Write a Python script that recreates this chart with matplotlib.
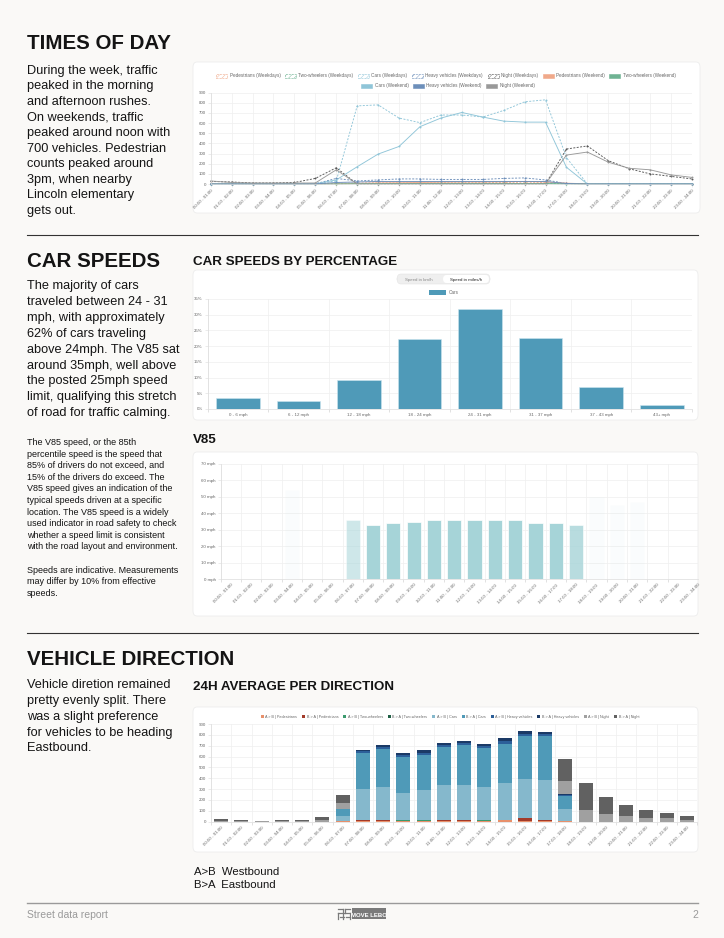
import matplotlib
matplotlib.use('Agg')
import matplotlib.pyplot as plt
from matplotlib.patches import Patch, FancyBboxPatch, Rectangle
from matplotlib.lines import Line2D
import numpy as np

plt.rcParams['font.family'] = ['Liberation Sans', 'DejaVu Sans']
plt.rcParams['hatch.linewidth'] = 0.3

# ---- data ----
hour_labels = [f'{h:02d}:00 - {h + 1:02d}:00' for h in range(24)]

# times of day (vehicles per hour)
peds_wd = [3, 2, 1, 1, 1, 2, 5, 10, 12, 12, 12, 13, 13, 14, 15, 18, 15, 5, 1, 0, 0, 0, 0, 0]
two_wd = [0, 0, 0, 0, 0, 0, 2, 4, 5, 5, 5, 5, 5, 5, 5, 5, 5, 2, 0, 0, 0, 0, 0, 0]
cars_wd = [0, 0, 0, 0, 0, 5, 30, 770, 780, 650, 605, 680, 680, 660, 725, 810, 830, 260, 0, 0, 0, 0, 0, 0]
heavy_wd = [0, 0, 0, 0, 0, 2, 55, 30, 40, 50, 50, 45, 45, 45, 55, 60, 40, 5, 0, 0, 0, 0, 0, 0]
night_wd = [25, 20, 10, 10, 15, 55, 160, 0, 0, 0, 0, 0, 0, 0, 0, 0, 0, 345, 375, 230, 150, 100, 75, 50]
peds_we = [5, 3, 2, 1, 1, 1, 2, 5, 10, 12, 15, 18, 20, 20, 22, 25, 20, 8, 2, 0, 0, 0, 0, 0]
two_we = [0, 0, 0, 0, 0, 0, 1, 3, 4, 5, 5, 6, 6, 6, 6, 5, 5, 2, 0, 0, 0, 0, 0, 0]
cars_we = [0, 0, 0, 0, 0, 3, 40, 170, 295, 370, 565, 650, 705, 660, 620, 610, 610, 165, 0, 0, 0, 0, 0, 0]
heavy_we = [0, 0, 0, 0, 0, 1, 15, 20, 25, 25, 25, 25, 25, 25, 25, 25, 25, 5, 0, 0, 0, 0, 0, 0]
night_we = [30, 15, 10, 10, 10, 10, 140, 0, 0, 0, 0, 0, 0, 0, 0, 0, 0, 285, 315, 215, 155, 140, 90, 65]

# car speeds
speed_bins = ['0 - 6 mph', '6 - 12 mph', '12 - 18 mph', '18 - 24 mph',
              '24 - 31 mph', '31 - 37 mph', '37 - 43 mph', '43+ mph']
speed_pct = [3.4, 2.7, 9.3, 22.2, 31.9, 22.7, 7.1, 1.2]

# V85 per hour
v85 = [0, 0, 0, 54, 0, 0, 36, 33, 34, 35, 36, 36, 36, 36, 36, 34, 34, 33, 50, 45, 47, 0, 0, 0]
v85_alpha = [0, 0, 0, 0.05, 0, 0, 0.55, 1, 1, 1, 1, 1, 1, 1, 1, 1, 1, 0.8, 0.05, 0.05, 0.05, 0, 0, 0]

# direction split
ab_ped = [0, 0, 0, 0, 0, 0, 2, 10, 10, 8, 8, 10, 10, 8, 12, 10, 10, 3, 0, 0, 0, 0, 0, 0]
ba_ped = [0, 0, 0, 0, 0, 0, 1, 3, 3, 3, 3, 3, 4, 3, 4, 20, 5, 2, 0, 0, 0, 0, 0, 0]
ab_two = [0, 0, 0, 0, 0, 0, 1, 1, 1, 1, 1, 1, 1, 1, 1, 1, 1, 1, 0, 0, 0, 0, 0, 0]
ba_two = [0, 0, 0, 0, 0, 0, 1, 1, 1, 1, 1, 1, 1, 1, 1, 1, 1, 1, 0, 0, 0, 0, 0, 0]
ab_cars = [0, 0, 0, 0, 0, 0, 50, 287, 302, 254, 279, 322, 321, 309, 339, 360, 370, 113, 0, 0, 0, 0, 0, 0]
ba_cars = [0, 0, 0, 0, 0, 0, 60, 330, 350, 325, 320, 355, 370, 360, 360, 395, 400, 120, 0, 0, 0, 0, 0, 0]
ab_heavy = [0, 0, 0, 0, 0, 0, 3, 15, 20, 20, 20, 18, 20, 18, 25, 25, 20, 8, 0, 0, 0, 0, 0, 0]
ba_heavy = [0, 0, 0, 0, 0, 0, 2, 15, 20, 20, 25, 17, 20, 17, 25, 25, 15, 5, 0, 0, 0, 0, 0, 0]
ab_night = [10, 7, 5, 5, 5, 15, 50, 0, 0, 0, 0, 0, 0, 0, 0, 0, 0, 122, 110, 70, 55, 35, 30, 20]
ba_night = [15, 8, 5, 7, 7, 30, 80, 0, 0, 0, 0, 0, 0, 0, 0, 0, 0, 200, 250, 155, 100, 75, 50, 30]

# ---- figure helpers (pixel coordinates, origin top-left) ----
W, H = 724, 938
fig = plt.figure(figsize=(W / 100, H / 100), dpi=100, facecolor='#faf9f7')
INK = '#141414'


def panel(x, y, w, h, fc='white', ec='#ededed', lw=0.6, r=4):
    fig.patches.append(FancyBboxPatch((x / W, 1 - (y + h) / H), w / W, h / H,
                                      boxstyle=f'round,pad=0,rounding_size={r / W}',
                                      transform=fig.transFigure, fc=fc, ec=ec, lw=lw, zorder=-5))


def axes_px(x, y, w, h):
    ax = fig.add_axes([x / W, 1 - (y + h) / H, w / W, h / H])
    ax.set_facecolor('none')
    return ax


def txt(x, y, s, **kw):
    kw.setdefault('va', 'baseline')
    return fig.text(x / W, 1 - y / H, s, **kw)


def para(x, y0, lines, dy, **kw):
    for i, line in enumerate(lines):
        txt(x, y0 + i * dy, line, **kw)


def hline(x0, x1, y, color, lw):
    fig.add_artist(Line2D([x0 / W, x1 / W], [1 - y / H, 1 - y / H], color=color, lw=lw,
                          transform=fig.transFigure))


def style(ax, fs=3.2):
    for s in ['top', 'right']:
        ax.spines[s].set_visible(False)
    for s in ['left', 'bottom']:
        ax.spines[s].set_color('#dcdcdc')
        ax.spines[s].set_linewidth(0.5)
    ax.tick_params(labelsize=fs, colors='#666666', length=2, width=0.4, pad=1.5)
    ax.tick_params(which='both', color='#dcdcdc')
    ax.set_axisbelow(True)


# ---- left column texts ----
H1 = dict(fontsize=14.8, fontweight='bold', color=INK)
BODY = dict(fontsize=9.2, color=INK)

txt(27, 49, 'TIMES OF DAY', **H1)
para(27, 74, ['During the week, traffic', 'peaked in the morning', 'and afternoon rushes.',
              'On weekends, traffic', 'peaked around noon with', '700 vehicles. Pedestrian',
              'counts peaked around', '3pm, when nearby', 'Lincoln elementary', 'gets out.'],
     15.5, **BODY)

hline(27, 698, 235, '#333333', 0.8)

txt(27, 267, 'CAR SPEEDS', **H1)
para(27, 289.5, ['The majority of cars', 'traveled between 24 - 31', 'mph, with approximately',
                 '62% of cars traveling', 'above 24mph. The V85 sat', 'around 35mph, well above',
                 'the posted 25mph speed', 'limit, qualifying this stretch',
                 'of road for traffic calming.'], 15.8, **BODY)
para(27, 445, ['The V85 speed, or the 85th', 'percentile speed is the speed that',
               '85% of drivers do not exceed, and', '15% of the drivers do exceed. The',
               'V85 speed gives an indication of the', 'typical speeds driven at a specific',
               'location. The V85 speed is a widely', 'used indicator in road safety to check',
               'whether a speed limit is consistent', 'with the road layout and environment.',
               '', 'Speeds are indicative. Measurements', 'may differ by 10% from effective',
               'speeds.'], 11.6, fontsize=6.5, color=INK)

hline(27, 698, 633, '#333333', 0.8)

txt(27, 665, 'VEHICLE DIRECTION', **H1)
para(27, 688.5, ['Vehicle diretion remained', 'pretty evenly split. There',
                 'was a slight preference', 'for vehicles to be heading', 'Eastbound.'],
     15.7, **BODY)

SUB = dict(fontsize=9.6, fontweight='bold', color=INK)
txt(193, 265, 'CAR SPEEDS BY PERCENTAGE', **SUB)
txt(193, 443, 'V85', **SUB)
txt(193, 690, '24H AVERAGE PER DIRECTION', **SUB)

txt(194, 875, 'A>B  Westbound', fontsize=8.2, color=INK)
txt(194, 888, 'B>A  Eastbound', fontsize=8.2, color=INK)

# footer
hline(27, 698, 903, '#9a9a9a', 1.0)
txt(27, 918, 'Street data report', fontsize=7.5, color='#9a9a9a')
txt(698, 918, '2', fontsize=7.5, color='#9a9a9a', ha='right')
fig.patches.append(Rectangle((352 / W, 1 - 919 / H), 34 / W, 11 / H, transform=fig.transFigure,
                             fc='#7a7a7a', ec='none'))
txt(369, 916.5, 'MOVE LEBO', fontsize=4.3, fontweight='bold', color='white', ha='center')
for (x0, y0, x1, y1) in [(338, 909, 343, 909), (345, 909, 350, 909), (338, 913, 350, 913),
                         (340, 917, 344, 917), (346, 917, 350, 917), (343, 909, 343, 919),
                         (345, 909, 345, 913), (338, 913, 338, 919), (350, 913, 350, 919)]:
    fig.add_artist(Line2D([x0 / W, x1 / W], [1 - y0 / H, 1 - y1 / H], color='#7a7a7a', lw=0.9,
                          transform=fig.transFigure))

# ---- times of day line chart ----
panel(193, 62, 507, 151)
ax = axes_px(210.7, 92.7, 481.3, 91.3)
x = np.arange(24)
series = [
    ('Pedestrians (Weekdays)', peds_wd, '#f0a98a', True),
    ('Two-wheelers (Weekdays)', two_wd, '#6fb393', True),
    ('Cars (Weekdays)', cars_wd, '#8fc5d8', True),
    ('Heavy vehicles (Weekdays)', heavy_wd, '#6d8fba', True),
    ('Night (Weekdays)', night_wd, '#555555', True),
    ('Pedestrians (Weekend)', peds_we, '#f0a98a', False),
    ('Two-wheelers (Weekend)', two_we, '#6fb393', False),
    ('Cars (Weekend)', cars_we, '#8fc5d8', False),
    ('Heavy vehicles (Weekend)', heavy_we, '#6d8fba', False),
    ('Night (Weekend)', night_we, '#999999', False),
]
handles = []
for label, vals, col, weekday in series:
    ls = (0, (2.2, 1.6)) if weekday else '-'
    ax.plot(x, vals, color=col, lw=0.65, ls=ls, marker='o', ms=1.4, mew=0, clip_on=False)
    if weekday:
        handles.append(Patch(facecolor='white', edgecolor=col, hatch='//////', ls='--', lw=0.4,
                             label=label))
    else:
        handles.append(Patch(facecolor=col, edgecolor=col, lw=0.4, label=label))
ax.set_xlim(0, 23)
ax.set_ylim(0, 900)
ax.set_yticks(range(0, 901, 100))
ax.set_xticks(x)
ax.set_xticklabels(hour_labels, rotation=45, ha='right', rotation_mode='anchor', fontsize=2.6)
style(ax, 3.2)
ax.grid(color='#efefef', lw=0.5)
LEG = dict(frameon=False, fontsize=3.3, handlelength=2.4, handleheight=1.0,
           columnspacing=1.0, handletextpad=0.5, borderpad=0, labelcolor='#666666')
fig.legend(handles=handles[:7], ncol=7, loc='center', bbox_to_anchor=(446 / W, 1 - 76 / H), **LEG)
fig.legend(handles=handles[7:], ncol=3, loc='center', bbox_to_anchor=(448 / W, 1 - 86 / H), **LEG)

# ---- car speeds bar chart ----
panel(193, 270, 505, 150)
fig.patches.append(FancyBboxPatch((397 / W, 1 - 284 / H), 93 / W, 10 / H,
                                  boxstyle=f'round,pad=0,rounding_size={4 / W}',
                                  transform=fig.transFigure, fc='#efefef', ec='#e4e4e4', lw=0.4))
fig.patches.append(FancyBboxPatch((443 / W, 1 - 283 / H), 46 / W, 8 / H,
                                  boxstyle=f'round,pad=0,rounding_size={3.5 / W}',
                                  transform=fig.transFigure, fc='white', ec='none'))
txt(419, 280.5, 'Speed in km/h', fontsize=3.2, color='#888888', ha='center')
txt(466, 280.5, 'Speed in miles/h', fontsize=3.2, color='#222222', ha='center')

ax = axes_px(207.7, 299, 484.3, 110)
xs = np.arange(len(speed_bins))
ax.bar(xs, speed_pct, width=0.72, color='#4f9ab8', edgecolor='#cde6ef', lw=0.4, label='Cars')
ax.set_xlim(-0.5, len(speed_bins) - 0.5)
ax.set_ylim(0, 35)
ax.set_yticks(range(0, 36, 5))
ax.set_yticklabels([f'{v}%' for v in range(0, 36, 5)])
ax.set_xticks(xs)
ax.set_xticklabels(speed_bins)
ax.set_xticks(np.arange(-0.5, len(speed_bins)), minor=True)
style(ax, 3.2)
ax.tick_params(axis='x', which='major', length=0, pad=3)
ax.grid(axis='y', color='#efefef', lw=0.5)
ax.grid(axis='x', which='minor', color='#efefef', lw=0.5)
fig.legend(handles=[Patch(facecolor='#4f9ab8', label='Cars')], loc='center',
           bbox_to_anchor=(444 / W, 1 - 292.5 / H), frameon=False, fontsize=3.3,
           handlelength=3.6, handleheight=1.2, handletextpad=0.6, labelcolor='#666666')

# ---- V85 bar chart ----
panel(193, 452, 505, 164)
ax = axes_px(220.7, 464, 477.3, 115)
for i, (v, a) in enumerate(zip(v85, v85_alpha)):
    if v > 0:
        ax.bar(i, v, width=0.7, color='#a6d4d8', alpha=a, edgecolor='white', lw=0.5)
ax.set_xlim(-0.5, 21.36)
ax.set_ylim(0, 70)
ax.set_yticks(range(0, 71, 10))
ax.set_yticklabels([f'{v} mph' for v in range(0, 71, 10)])
ax.set_xticks(np.arange(24))
ax.set_xticklabels(hour_labels, rotation=45, ha='right', rotation_mode='anchor', fontsize=2.6)
ax.set_xticks(np.arange(-0.5, 22), minor=True)
style(ax, 3.2)
ax.tick_params(axis='x', which='major', length=0, pad=3)
ax.tick_params(axis='x', which='minor', length=2.5)
ax.grid(axis='y', color='#efefef', lw=0.5)
ax.grid(axis='x', which='minor', color='#efefef', lw=0.5)

# ---- direction stacked bars ----
panel(193, 707, 505, 145)
ax = axes_px(211, 724, 486, 97.7)
stack = [
    ('A > B | Pedestrians', ab_ped, '#e8906b'),
    ('B > A | Pedestrians', ba_ped, '#a33b2a'),
    ('A > B | Two-wheelers', ab_two, '#3b9a6e'),
    ('B > A | Two-wheelers', ba_two, '#1f5f45'),
    ('A > B | Cars', ab_cars, '#85b8cc'),
    ('B > A | Cars', ba_cars, '#4f9ab8'),
    ('A > B | Heavy vehicles', ab_heavy, '#2c5f99'),
    ('B > A | Heavy vehicles', ba_heavy, '#1b3a66'),
    ('A > B | Night', ab_night, '#a0a0a0'),
    ('B > A | Night', ba_night, '#616161'),
]
bottom = np.zeros(24)
dir_handles = []
for label, vals, col in stack:
    ax.bar(x, vals, bottom=bottom, width=0.7, color=col, lw=0)
    bottom += np.array(vals)
    dir_handles.append(Patch(facecolor=col, label=label))
ax.set_xlim(-0.5, 23.5)
ax.set_ylim(0, 900)
ax.set_yticks(range(0, 901, 100))
ax.set_xticks(x)
ax.set_xticklabels(hour_labels, rotation=45, ha='right', rotation_mode='anchor', fontsize=2.6)
ax.set_xticks(np.arange(-0.5, 24), minor=True)
style(ax, 3.2)
ax.tick_params(axis='x', which='major', length=0, pad=3)
ax.grid(axis='y', color='#efefef', lw=0.5)
ax.grid(axis='x', which='minor', color='#efefef', lw=0.5)
fig.legend(handles=dir_handles, ncol=10, loc='center', bbox_to_anchor=(450 / W, 1 - 717 / H),
           frameon=False, fontsize=2.7, handlelength=0.8, handleheight=0.8,
           columnspacing=1.3, handletextpad=0.4, labelcolor='#666666')

fig.savefig('out.png', dpi=100, facecolor=fig.get_facecolor())
